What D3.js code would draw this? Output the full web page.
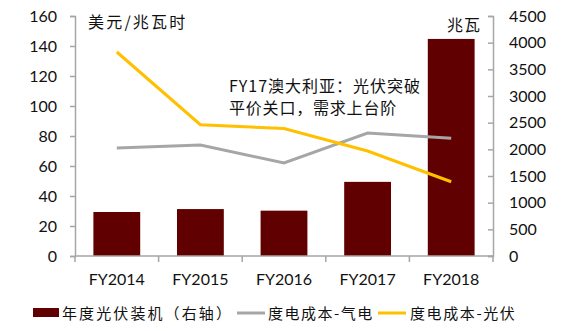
<!DOCTYPE html>
<html><head><meta charset="utf-8">
<script src="https://cdn.jsdelivr.net/npm/d3@7/dist/d3.min.js"></script>
<style>body{margin:0;background:#fff}svg{display:block}</style>
</head><body><svg id="c" width="573" height="331"></svg>
<script>
const categories = ["FY2014","FY2015","FY2016","FY2017","FY2018"];
const solarInstall = [825, 880, 850, 1390, 4070];
const gasCost = [72, 74, 62, 82, 78.5];
const solarCost = [136, 87.5, 85, 70, 49.5];
const leftTicks = [0,20,40,60,80,100,120,140,160];
const rightTicks = [0,500,1000,1500,2000,2500,3000,3500,4000,4500];
const legendLabels = ["年度光伏装机（右轴）","度电成本-气电","度电成本-光伏"];

const svg = d3.select("#c");
const L = 75, R = 493, T = 16, B = 256;
const x = d3.scaleBand().domain(categories).range([L,R]).paddingInner(0.44).paddingOuter(0.22);
const xb = d3.scaleBand().domain(categories).range([L,R]);
const yL = d3.scaleLinear().domain([0,160]).range([B,T]);
const yR = d3.scaleLinear().domain([0,4500]).range([B,T]);
const axisColor = "#a6a6a6";
const numFont = "Lato, 'Open Sans', sans-serif";
const cjk = "'Noto Sans CJK SC', sans-serif";

// bars
svg.selectAll("rect.bar").data(solarInstall).join("rect")
  .attr("x",(d,i)=>x(categories[i])).attr("width",x.bandwidth())
  .attr("y",d=>yR(d)).attr("height",d=>B-yR(d)).attr("fill","#600000");

// axes
const gl = svg.append("g").attr("transform",`translate(${L},0)`)
  .call(d3.axisLeft(yL).tickValues(leftTicks).tickSize(5).tickPadding(13));
const gr = svg.append("g").attr("transform",`translate(${R},0)`)
  .call(d3.axisRight(yR).tickValues(rightTicks).tickFormat(d3.format("d")).tickSize(-5).tickPadding(16));
const gx = svg.append("g").attr("transform",`translate(0,${B})`)
  .call(d3.axisBottom(xb).tickSize(0).tickPadding(18));
[gl,gr,gx].forEach(g=>{
  g.selectAll("path,line").attr("stroke",axisColor).attr("stroke-width",1.5);
  g.selectAll("text").attr("fill","#111").style("font-family",numFont).style("font-size","16px");
});
gx.select(".domain").attr("d",`M${L},0H${R}`);
// x boundary ticks
svg.selectAll("line.xt").data(d3.range(categories.length+1)).join("line")
  .attr("x1",i=>L+i*xb.step()).attr("x2",i=>L+i*xb.step()).attr("y1",B).attr("y2",B+6)
  .attr("stroke",axisColor).attr("stroke-width",1.5);

// lines
const line = d3.line().x((d,i)=>xb(categories[i])+xb.bandwidth()/2).y(d=>yL(d));
svg.append("path").datum(gasCost).attr("d",line).attr("fill","none").attr("stroke","#a6a6a6").attr("stroke-width",3);
svg.append("path").datum(solarCost).attr("d",line).attr("fill","none").attr("stroke","#ffc000").attr("stroke-width",3);

// texts
const t = (s,xx,yy,anchor="start",fs=15,ls=0,fam=cjk)=>svg.append("text").attr("x",xx).attr("y",yy).attr("text-anchor",anchor)
  .style("font-family",fam).style("font-size",fs+"px").style("letter-spacing",ls+"px").attr("fill","#111").text(s);
t("美元/兆瓦时",88,28,"start",16,2.2);
t("兆瓦",447,31,"start",16,1);
t("FY17澳大利亚：光伏突破",229,92,"start",16,1.0);
t("平价关口，需求上台阶",229,114,"start",16,0.8);

// legend
const ly = 313;
svg.append("rect").attr("x",33).attr("y",ly-5).attr("width",26).attr("height",9).attr("fill","#600000");
t(legendLabels[0],62,ly+6,"start",15,2.1);
svg.append("line").attr("x1",237).attr("x2",265).attr("y1",ly).attr("y2",ly).attr("stroke","#a6a6a6").attr("stroke-width",3);
t(legendLabels[1],268,ly+6,"start",15,1.5);
svg.append("line").attr("x1",378).attr("x2",406).attr("y1",ly).attr("y2",ly).attr("stroke","#ffc000").attr("stroke-width",3);
t(legendLabels[2],410,ly+6,"start",15,1.6);
</script></body></html>
